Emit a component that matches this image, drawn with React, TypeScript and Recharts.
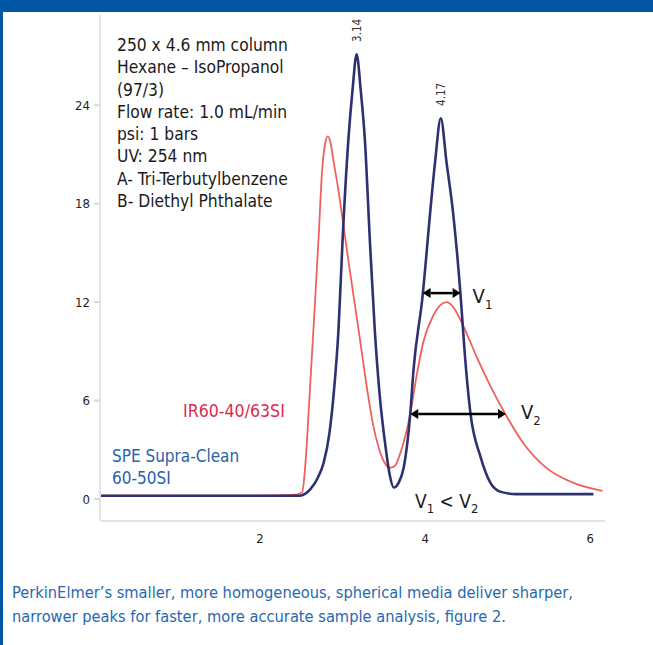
import { LineChart, Line, XAxis, YAxis, ReferenceLine, ReferenceDot } from 'recharts'

const FONT = "'Liberation Sans Narrow', 'DejaVu Sans Condensed', 'Noto Sans', sans-serif"

// retention time (min)
const blueTime = [
  0.06, 0.8, 1.6, 2.3, 2.48, 2.61, 2.7, 2.77, 2.84, 2.89, 2.95, 3.0, 3.07, 3.12, 3.17, 3.22, 3.27,
  3.33, 3.39, 3.45, 3.52, 3.57, 3.62, 3.68, 3.74, 3.82, 3.86, 3.97, 4.06, 4.12, 4.19, 4.26, 4.34,
  4.43, 4.48, 4.55, 4.67, 4.79, 4.91, 5.1, 5.6, 6.04,
]
// SPE Supra-Clean 60-50SI response
const blueSignal = [
  0.2, 0.2, 0.2, 0.2, 0.2, 0.6, 1.3, 2.2, 4.0, 6.3, 10.3, 15.8, 21.9, 24.9, 27.1, 24.9, 21.9,
  15.8, 10.3, 6.3, 3.2, 1.5, 0.7, 1.0, 1.9, 5.2, 7.9, 12.4, 17.4, 20.5, 23.2, 20.5, 17.4,
  12.4, 8.9, 5.2, 2.6, 1.0, 0.45, 0.3, 0.3, 0.3,
]

const redTime = [
  0.06, 1.0, 2.0, 2.4, 2.51, 2.55, 2.6, 2.66, 2.71, 2.75, 2.79, 2.82, 2.85, 2.89, 2.95, 3.01,
  3.08, 3.15, 3.22, 3.3, 3.37, 3.44, 3.5, 3.57, 3.63, 3.7, 3.82, 3.9, 3.98, 4.1, 4.18, 4.26,
  4.34, 4.42, 4.52, 4.63, 4.79, 4.97, 5.19, 5.47, 5.79, 6.15,
]
// IR60-40/63SI response
const redSignal = [
  0.2, 0.2, 0.2, 0.25, 0.4, 2.2, 6.3, 11.5, 16.0, 19.9, 21.7, 22.1, 21.8, 20.6, 18.8, 16.7,
  14.2, 11.8, 9.4, 6.6, 4.5, 3.1, 2.3, 1.9, 2.0, 2.8, 5.2, 7.6, 9.6, 11.2, 11.8, 12.0,
  11.7, 11.0, 9.9, 8.6, 6.9, 5.2, 3.4, 1.9, 1.0, 0.5,
]

const yTicks = [0, 6, 12, 18, 24]
const xTicks = [2, 4, 6]

const infoLines = [
  '250 x 4.6 mm column',
  'Hexane \u2013 IsoPropanol',
  '(97/3)',
  'Flow rate: 1.0 mL/min',
  'psi: 1 bars',
  'UV: 254 nm',
  'A- Tri-Terbutylbenzene',
  'B- Diethyl Phthalate',
]

const blueData = blueTime.map((t, i) => ({ time: t, signal: blueSignal[i] }))
const redData = redTime.map((t, i) => ({ time: t, signal: redSignal[i] }))

const NAVY = '#2d3170'
const RED = '#f0605c'
const BRAND = '#0055a4'

const arrow = (sub: string, dx: number, dy: number) => (props: any) => {
  const { x1, y1, x2, y2 } = props
  const h = 8
  const w = 5
  return (
    <g>
      <line x1={x1 + h} y1={y1} x2={x2 - h} y2={y2} stroke="#000" strokeWidth={2.5} />
      <polygon points={`${x1},${y1} ${x1 + h},${y1 - w} ${x1 + h},${y1 + w}`} fill="#000" />
      <polygon points={`${x2},${y2} ${x2 - h},${y2 - w} ${x2 - h},${y2 + w}`} fill="#000" />
      <text x={x2 + dx} y={y2 + dy} fontFamily={FONT} fontSize={20} fill="#1a1a1a">
        V<tspan fontSize={13} dy={6}>{sub}</tspan>
      </text>
    </g>
  )
}

const peakLabel = (text: string) => (props: any) => {
  const { cx, cy } = props
  const y = cy - 24
  return (
    <text
      x={cx}
      y={y}
      transform={`rotate(-90 ${cx} ${y})`}
      textAnchor="middle"
      dominantBaseline="central"
      fontFamily={FONT}
      fontSize={11.5}
      fill="#333"
    >
      {text}
    </text>
  )
}

export default function App() {
  return (
    <div
      style={{
        position: 'absolute',
        left: 0,
        top: 0,
        width: 653,
        height: 645,
        background: '#fff',
        overflow: 'hidden',
        fontFamily: FONT,
      }}
    >
      <div style={{ position: 'absolute', left: 0, top: 0, width: 653, height: 12, background: BRAND }} />
      <div style={{ position: 'absolute', left: 0, top: 12, width: 3, height: 633, background: BRAND }} />

      <LineChart
        width={653}
        height={560}
        margin={{ top: 15, right: 48, bottom: 9, left: 0 }}
        style={{ position: 'absolute', left: 0, top: 0 }}
      >
        <XAxis
          type="number"
          dataKey="time"
          domain={[0.06, 6.18]}
          allowDataOverflow
          ticks={xTicks}
          tickLine={false}
          axisLine={{ stroke: '#e4e4e4', strokeWidth: 2 }}
          tick={{ fontSize: 13, fill: '#222', fontFamily: FONT }}
          tickMargin={7}
          height={30}
        />
        <YAxis
          type="number"
          domain={[-1.34, 29.5]}
          allowDataOverflow
          ticks={yTicks}
          width={100}
          tickSize={6}
          tickMargin={4}
          tickLine={{ stroke: '#d8d8d8', strokeWidth: 2 }}
          axisLine={{ stroke: '#e4e4e4', strokeWidth: 2 }}
          tick={{ fontSize: 13, fill: '#222', fontFamily: FONT }}
        />
        <Line
          data={redData}
          dataKey="signal"
          type="monotone"
          stroke={RED}
          strokeWidth={1.8}
          dot={false}
          isAnimationActive={false}
        />
        <Line
          data={blueData}
          dataKey="signal"
          type="monotone"
          stroke={NAVY}
          strokeWidth={2.6}
          dot={false}
          isAnimationActive={false}
        />
        <ReferenceDot x={3.17} y={27.1} r={0} shape={peakLabel('3.14')} ifOverflow="visible" />
        <ReferenceDot x={4.19} y={23.2} r={0} shape={peakLabel('4.17')} ifOverflow="visible" />
        <ReferenceLine
          segment={[{ x: 3.97, y: 12.55 }, { x: 4.43, y: 12.55 }]}
          shape={arrow('1', 12, 10)}
          ifOverflow="visible"
        />
        <ReferenceLine
          segment={[{ x: 3.82, y: 5.18 }, { x: 4.98, y: 5.18 }]}
          shape={arrow('2', 15, 5)}
          ifOverflow="visible"
        />
      </LineChart>

      <div style={{ position: 'absolute', left: 117, top: 34, fontSize: 17.3, lineHeight: '22.3px', color: '#1a1a1a' }}>
        {infoLines.map((l) => (
          <div key={l}>{l}</div>
        ))}
      </div>

      <div style={{ position: 'absolute', left: 183, top: 400, fontSize: 17.6, lineHeight: '22px', color: '#dc2a4e' }}>
        IR60-40/63SI
      </div>
      <div style={{ position: 'absolute', left: 112, top: 445, fontSize: 17, lineHeight: '22px', color: '#2a62a8' }}>
        <div>SPE Supra-Clean</div>
        <div>60-50SI</div>
      </div>

      <div style={{ position: 'absolute', left: 415, top: 490, fontSize: 19, lineHeight: '22px', color: '#1a1a1a' }}>
        V<sub style={{ fontSize: 13 }}>1</sub> &lt; V<sub style={{ fontSize: 13 }}>2</sub>
      </div>

      <div style={{ position: 'absolute', left: 12, top: 581, fontSize: 16.3, lineHeight: '24px', color: '#2767b2' }}>
        <div>PerkinElmer’s smaller, more homogeneous, spherical media deliver sharper,</div>
        <div>narrower peaks for faster, more accurate sample analysis, figure 2.</div>
      </div>
    </div>
  )
}
